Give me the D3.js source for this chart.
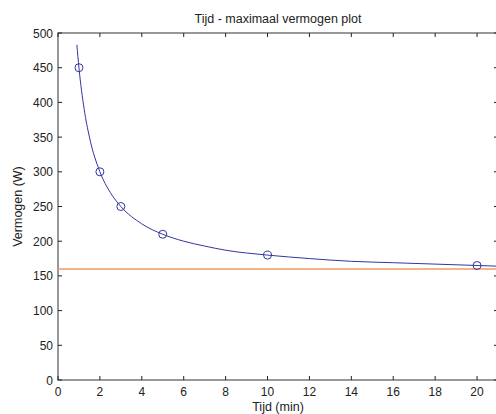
<!DOCTYPE html>
<html><head><meta charset="utf-8">
<script src="https://cdn.jsdelivr.net/npm/d3@7"></script>
<style>body{margin:0;background:#fff}svg{display:block}text{font-family:"Liberation Sans",Arial,sans-serif}</style>
</head><body>
<script>
const title = "Tijd - maximaal vermogen plot";
const xLabel = "Tijd (min)";
const yLabel = "Vermogen (W)";
const xTicks = [0,2,4,6,8,10,12,14,16,18,20];
const yTicks = [0,50,100,150,200,250,300,350,400,450,500];
const measT = [1,2,3,5,10,20];
const measP = [450,300,250,210,180,165];
const fitT = [0.9,1,1.25,1.5,2,2.5,3,4,5,6,7,8,10,12,14,16,18,20,21];
const fitP = [483,450,390,350,300,270,250,225,210,200,193,187,180,175,171,169,167,165,164];
const refLevel = 160;
const xDomain = [0,21];
const yDomain = [0,500];

const W=496,H=414;
const m={left:58,right:-2,top:33,bottom:34};
const svg=d3.select("body").append("svg").attr("width",W).attr("height",H);
const x=d3.scaleLinear().domain(xDomain).range([m.left,W-m.right]);
const y=d3.scaleLinear().domain(yDomain).range([H-m.bottom,m.top]);
const ink="#222";
const tl=4;
const fs=12;
const g=svg.append("g");
g.append("rect").attr("x",x(xDomain[0])).attr("y",y(yDomain[1])).attr("width",x(xDomain[1])-x(xDomain[0])).attr("height",y(yDomain[0])-y(yDomain[1]))
 .attr("fill","none").attr("stroke","#333").attr("stroke-width",1);
xTicks.forEach(t=>{
  g.append("line").attr("x1",x(t)).attr("x2",x(t)).attr("y1",y(0)).attr("y2",y(0)-tl).attr("stroke",ink);
  g.append("line").attr("x1",x(t)).attr("x2",x(t)).attr("y1",y(500)).attr("y2",y(500)+tl).attr("stroke",ink);
  g.append("text").attr("x",x(t)).attr("y",y(0)+16).attr("text-anchor","middle").attr("font-size",fs).attr("fill",ink).text(t);
});
yTicks.forEach(t=>{
  g.append("line").attr("x1",x(0)).attr("x2",x(0)+tl).attr("y1",y(t)).attr("y2",y(t)).attr("stroke",ink);
  g.append("line").attr("x1",x(21)).attr("x2",x(21)-tl).attr("y1",y(t)).attr("y2",y(t)).attr("stroke",ink);
  g.append("text").attr("x",x(0)-5).attr("y",y(t)+4.5).attr("text-anchor","end").attr("font-size",fs).attr("fill",ink).text(t);
});
g.append("line").attr("x1",x(xDomain[0])).attr("x2",x(xDomain[1])).attr("y1",y(refLevel)).attr("y2",y(refLevel))
 .attr("stroke","#f09a60").attr("stroke-width",1.4);
const line=d3.line().x((d,i)=>x(fitT[i])).y((d,i)=>y(fitP[i])).curve(d3.curveMonotoneX);
g.append("path").datum(fitT).attr("d",line).attr("fill","none").attr("stroke","#3434a0").attr("stroke-width",1);
g.selectAll("circle.m").data(measT).enter().append("circle")
 .attr("cx",(d)=>x(d)).attr("cy",(d,i)=>y(measP[i])).attr("r",4)
 .attr("fill","none").attr("stroke","#3434a0").attr("stroke-width",1);
svg.append("text").attr("x",(x(0)+x(21))/2).attr("y",23).attr("text-anchor","middle").attr("font-size",12.5).attr("fill",ink).text(title);
svg.append("text").attr("x",(x(0)+x(21))/2).attr("y",411).attr("text-anchor","middle").attr("font-size",12.5).attr("fill",ink).text(xLabel);
svg.append("text").attr("transform",`translate(22,${(y(0)+y(500))/2}) rotate(-90)`).attr("text-anchor","middle").attr("font-size",12.5).attr("fill",ink).text(yLabel);
</script>
</body></html>
